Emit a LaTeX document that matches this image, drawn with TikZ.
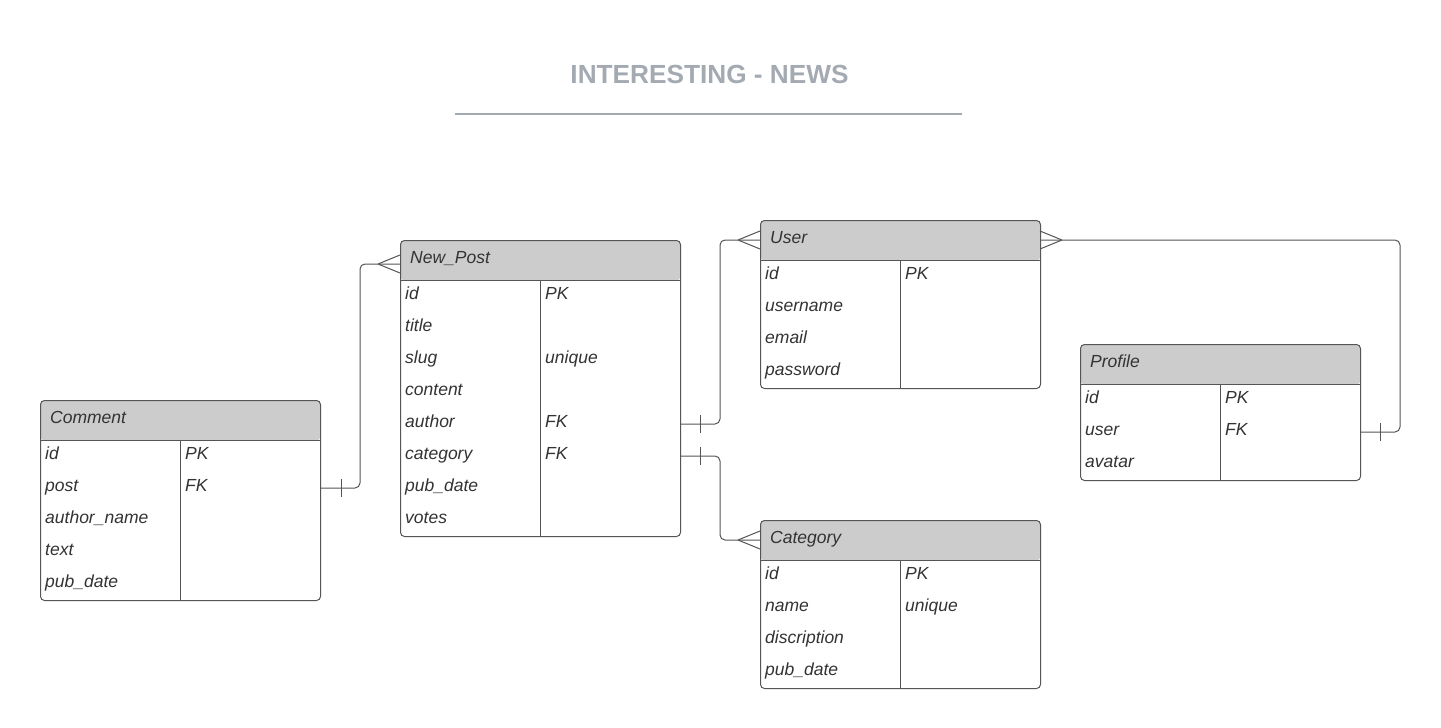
\documentclass[tikz,border=0pt]{standalone}
\usepackage{fontspec}
\setmainfont{Liberation Sans}
\definecolor{hdr}{HTML}{CCCCCC}
\definecolor{edge}{HTML}{555555}
\definecolor{txt}{HTML}{333333}
\definecolor{ttl}{HTML}{A4AAB2}
\tikzset{
  ln/.style={draw=edge, line width=1pt},
  tbl/.style={draw=edge, line width=1pt, rounded corners=4pt, fill=white,
    minimum width=280pt, inner sep=0pt, anchor=north west,
    path picture={\fill[hdr] (path picture bounding box.north west) rectangle ([yshift=-40pt]path picture bounding box.north east);}},
  fld/.style={anchor=base west, inner sep=0pt, text=txt, font=\itshape\fontsize{17.5}{20}\selectfont},
  hdrtxt/.style={fld},
  conn/.style={ln, rounded corners=5pt},
}
\newcommand\erent[6]{%
  \node[tbl, minimum height=#5pt] (#1) at (#2,#3) {};
  \draw[ln] (#2,#3+40) -- (#2+280,#3+40);
  \draw[ln] (#2+140,#3+40) -- (#2+140,#3+#5);
  \node[hdrtxt] (#1-title) at (#2+10,#3+23) {#4};
  \foreach \f/\k [count=\i from 0] in {#6} {
    \node[fld] (#1-f\i) at (#2+5,#3+59+32*\i) {\f};
    \node[fld] (#1-k\i) at (#2+145,#3+59+32*\i) {\k};
  }%
}
\begin{document}
\begin{tikzpicture}[x=1pt,y=-1pt]
\useasboundingbox[fill=white] (0,0) rectangle (1441,728);
% title
\node[anchor=base, inner sep=0pt, text=ttl, font=\bfseries\fontsize{26.2}{30}\selectfont] (title) at (709.5,83) {INTERESTING - NEWS};
\coordinate (ul-a) at (455,114);
\coordinate (ul-b) at (962,114);
\draw[draw=ttl, line width=2pt] (ul-a) -- (ul-b);
% entities
\erent{comment}{40}{400}{Comment}{200}{id/PK, post/FK, author\_name/, text/, pub\_date/}
\erent{post}{400}{240}{New\_Post}{296}{id/PK, title/, slug/unique, content/, author/FK, category/FK, pub\_date/, votes/}
\erent{user}{760}{220}{User}{168}{id/PK, username/, email/, password/}
\erent{profile}{1080}{344}{Profile}{136}{id/PK, user/FK, avatar/}
\erent{category}{760}{520}{Category}{168}{id/PK, name/unique, discription/, pub\_date/}
% connection points
\coordinate (cm-post) at (320,488);
\coordinate (np-in) at (400,264);
\coordinate (np-author) at (680,424);
\coordinate (np-cat) at (680,456);
\coordinate (us-in) at (760,240);
\coordinate (us-out) at (1040,240);
\coordinate (ca-in) at (760,540);
\coordinate (pr-user) at (1360,432);
% Comment -> New_Post
\draw[conn] (cm-post) -- (360,488) -- (360,264) -- (np-in);
\draw[ln] (341,479) -- (341,497);
\draw[ln] (378,264) -- (400,255) (378,264) -- (400,273);
% New_Post -> User
\draw[conn] (np-author) -- (720,424) -- (720,240) -- (us-in);
\draw[ln] (700,415) -- (700,433);
\draw[ln] (738,240) -- (760,231) (738,240) -- (760,249);
% New_Post -> Category
\draw[conn] (np-cat) -- (720,456) -- (720,540) -- (ca-in);
\draw[ln] (700,447) -- (700,465);
\draw[ln] (738,540) -- (760,531) (738,540) -- (760,549);
% User -> Profile
\draw[conn] (us-out) -- (1400,240) -- (1400,432) -- (pr-user);
\draw[ln] (1380,423) -- (1380,441);
\draw[ln] (1062,240) -- (1040,231) (1062,240) -- (1040,249);
\end{tikzpicture}
\end{document}
